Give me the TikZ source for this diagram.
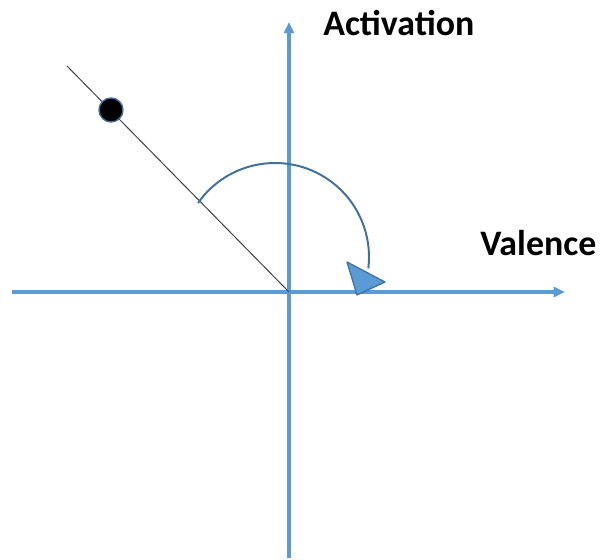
\documentclass[tikz,border=0pt]{standalone}
\usepackage{fontspec}
\setmainfont{Carlito}
\usetikzlibrary{arrows.meta,positioning}
\definecolor{figaxis}{HTML}{5B9BD5}
\definecolor{figarc}{HTML}{41719C}
\definecolor{figgrey}{HTML}{404040}
\begin{document}
\begin{tikzpicture}[x=0.025cm,y=0.025cm,
  axisline/.style={draw=figaxis, line width=2.4pt, -{Triangle[length=8pt,width=7pt]}},
  axislabel/.style={font=\fontsize{25.5}{30}\selectfont\bfseries, inner sep=0pt, anchor=base west}]
\useasboundingbox (-289,-268) rectangle (311,292);

\coordinate (O) at (0,0);
\coordinate (xstart) at (-277,0);
\coordinate (xend) at (276,0);
\coordinate (ystart) at (0,-266);
\coordinate (yend) at (0,270);
\coordinate (lineend) at (-222,226);

% axes
\draw[axisline] (xstart) -- (xend);
\draw[axisline] (ystart) -- (yend);
\node[axislabel] (activation) at (34,257) {Activation};
\node[axislabel] (valence) at (191,37) {Valence};

% direction of the state
\draw[figgrey, line width=0.7pt] (O) -- (lineend);
\node[circle, fill=black, draw=figarc, line width=1pt, minimum size=0.6cm, inner sep=0pt] (dot) at (-178,182) {};

% angle
\draw[figarc, line width=1.4pt] (-14,35) ++(145:94) arc[start angle=145, end angle=-7, radius=94];
\filldraw[fill=figaxis, draw=figarc, line width=0.9pt, line join=round] (58,30) -- (96,10) -- (68,-3) -- cycle;
\end{tikzpicture}
\end{document}
